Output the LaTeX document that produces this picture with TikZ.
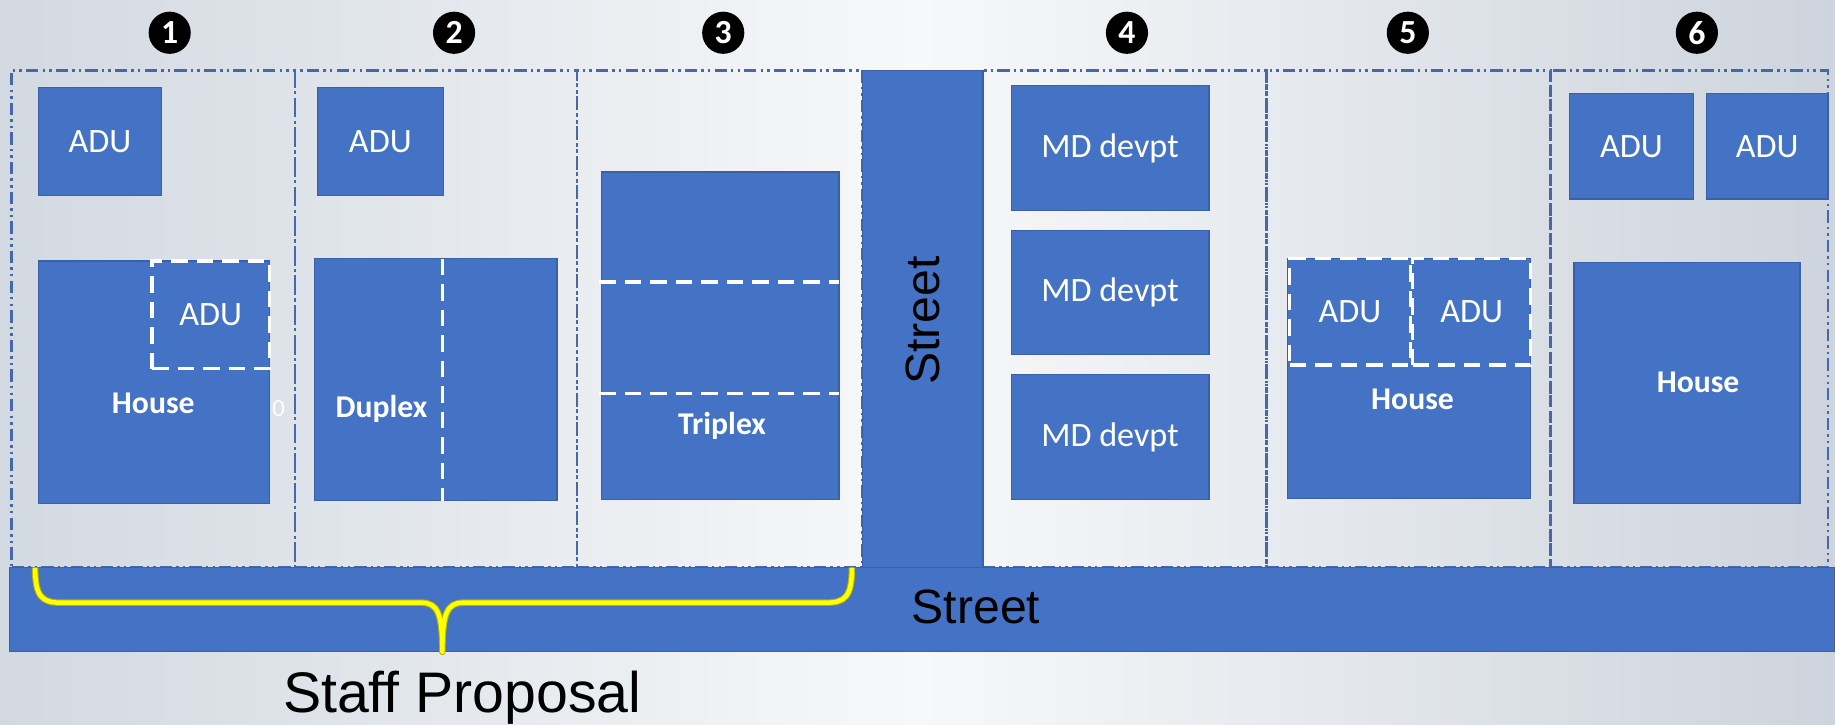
\documentclass[tikz,border=0pt]{standalone}
\usepackage{fontspec}
\setmainfont{Carlito}
\newfontfamily\arialf{Liberation Sans}
\usetikzlibrary{fit}
\definecolor{ofblue}{HTML}{4472C4}
\definecolor{lotline}{HTML}{4468A8}
\definecolor{bgL}{RGB}{210,217,225}
\definecolor{bgM}{RGB}{247,248,249}
\definecolor{bgR}{RGB}{205,212,221}
\definecolor{braceY}{HTML}{FFFF00}
\begin{document}
\begin{tikzpicture}[x=0.01cm,y=-0.01cm,
  blk/.style={fill=ofblue, draw=ofblue!85!black, line width=0.3pt, inner sep=0pt},
  lot/.style={draw=lotline, line width=0.65pt, inner sep=0pt,
    dash pattern=on 3pt off 1pt on 0.6pt off 1pt on 0.6pt off 1pt},
  wdash/.style={draw=white, line width=0.8pt, dash pattern=on 4pt off 2.2pt, inner sep=0pt},
  lbl/.style={text=white, font=\fontsize{8.3}{10}\selectfont},
  blbl/.style={text=white, font=\bfseries\fontsize{7.7}{9}\selectfont},
  num/.style={circle, fill=black, inner sep=0pt, minimum size=0.36cm, text=white,
    font=\bfseries\fontsize{8.2}{9}\selectfont},
  streetlbl/.style={text=black, font=\arialf\fontsize{11.7}{14}\selectfont},
  bracey/.style={draw=braceY, line width=1.1pt, line join=round}
]
\useasboundingbox (0,0) rectangle (1568,619);
\fill[left color=bgL, right color=bgR, middle color=bgM] (0,0) rectangle (1568,619);

% lot numbers
\node[num] (n1) at (145,28) {1};
\node[num] (n2) at (388,28) {2};
\node[num] (n3) at (618,28) {3};
\node[num] (n4) at (963,28) {4};
\node[num] (n5) at (1203,28) {5};
\node[num] (n6) at (1450,28) {6};

% lots
\node[lot, fit={(10,60)(252,485)}] (lot1) {};
\node[lot, fit={(252,60)(493,485)}] (lot2) {};
\node[lot, fit={(493,60)(737,485)}] (lot3) {};
\node[lot, fit={(840,60)(1082,485)}] (lot4) {};
\node[lot, fit={(1082,60)(1325,485)}] (lot5) {};
\node[lot, fit={(1325,60)(1562,485)}] (lot6) {};

% lot 1
\node[blk, fit={(33,75)(138,167)}, label={[lbl,name=t1a]center:ADU}] (adu1) {};
\node[blk, fit={(33,223)(230,430)}] (house1) {};
\node[blbl] (t1h) at (131,345) {House};
\node[wdash, fit={(130,223)(230,315)}, label={[lbl,name=t1b]center:ADU}] (adu1b) {};
\node[text=white, font=\fontsize{6}{7}\selectfont] (zero) at (238,349) {0};

% lot 2
\node[blk, fit={(271,75)(379,167)}, label={[lbl,name=t2a]center:ADU}] (adu2) {};
\node[blk, fit={(269,221)(476,428)}] (duplex) {};
\coordinate (d1) at (378,221);
\coordinate (d2) at (378,428);
\draw[wdash] (d1) -- (d2);
\node[blbl] (t2d) at (326,349) {Duplex};

% lot 3
\node[blk, fit={(514,147)(717,427)}] (triplex) {};
\coordinate (tr1) at (512,241); \coordinate (tr2) at (717,241);
\coordinate (tr3) at (512,336); \coordinate (tr4) at (717,336);
\draw[wdash] (tr1) -- (tr2);
\draw[wdash] (tr3) -- (tr4);
\node[blbl] (t3t) at (617,364) {Triplex};

% lot 4
\node[blk, fit={(864,73)(1033,180)}, label={[lbl,name=t4a]center:MD devpt}] (md1) {};
\node[blk, fit={(864,197)(1033,303)}, label={[lbl,name=t4b]center:MD devpt}] (md2) {};
\node[blk, fit={(864,320)(1033,427)}, label={[lbl,name=t4c]center:MD devpt}] (md3) {};

% lot 5
\node[blk, fit={(1100,221)(1308,426)}] (house5) {};
\node[wdash, fit={(1102,221)(1205,312)}, label={[lbl,name=t5a]center:ADU}] (adu5a) {};
\node[wdash, fit={(1207,221)(1308,312)}, label={[lbl,name=t5b]center:ADU}] (adu5b) {};
\node[blbl] (t5h) at (1207,341) {House};

% lot 6
\node[blk, fit={(1341,80)(1447,170)}, label={[lbl,name=t6a]center:ADU}] (adu6a) {};
\node[blk, fit={(1458,80)(1562,170)}, label={[lbl,name=t6b]center:ADU}] (adu6b) {};
\node[blk, fit={(1345,224)(1538,430)}] (house6) {};
\node[blbl] (t6h) at (1451,327) {House};

% streets
\node[blk, fit={(737,60)(840,488)}] (vstreet) {};
\node[streetlbl, rotate=90] (vst) at (vstreet) {Street};
\node[blk, fit={(8,485)(1568,557)}] (hstreet) {};
\node[streetlbl] (hst) at (834,519) {Street};

% brace
\coordinate (bl) at (30,485);
\coordinate (bm) at (378,557);
\coordinate (br) at (728,485);
\draw[bracey, draw=braceY!70!black, line width=1.6pt]
  (bl) .. controls (30,510) and (36,515) .. (52,515) -- (360,515)
  .. controls (374,515) and (378,524) .. (bm)
  .. controls (378,524) and (382,515) .. (396,515) -- (706,515)
  .. controls (722,515) and (728,510) .. (br);
\draw[bracey]
  (bl) .. controls (30,510) and (36,515) .. (52,515) -- (360,515)
  .. controls (374,515) and (378,524) .. (bm)
  .. controls (378,524) and (382,515) .. (396,515) -- (706,515)
  .. controls (722,515) and (728,510) .. (br);
\node[text=black, font=\arialf\fontsize{13.9}{16}\selectfont] (staff) at (395,596) {Staff Proposal};
\end{tikzpicture}
\end{document}
